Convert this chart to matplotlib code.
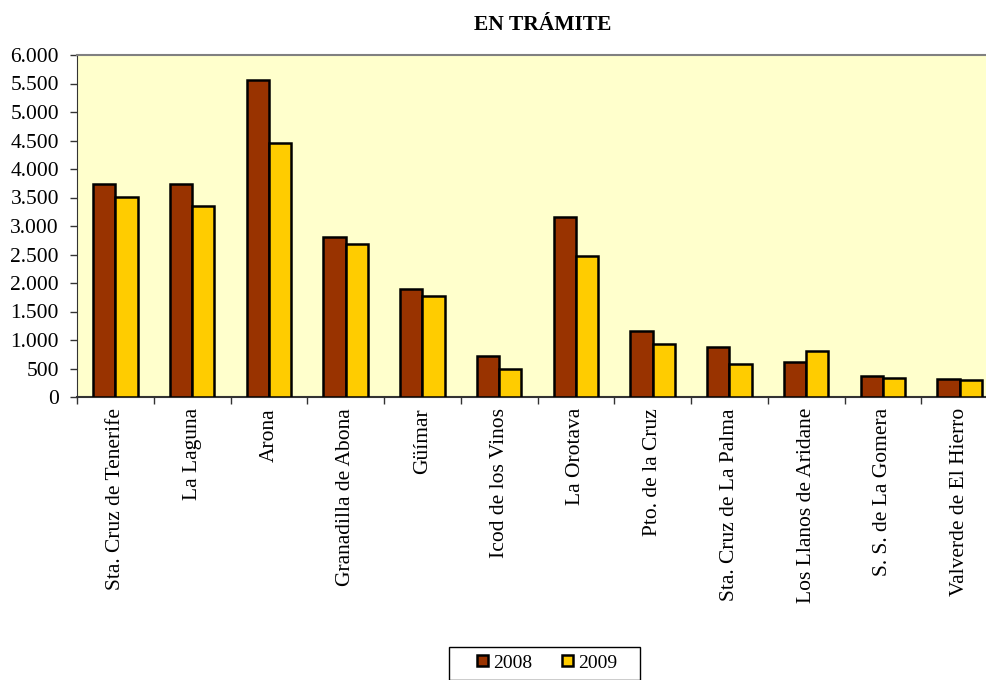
import matplotlib
matplotlib.use("Agg")
import matplotlib.pyplot as plt
import numpy as np
from matplotlib.ticker import FuncFormatter
from matplotlib.patches import Rectangle

# municipios y valores en tramite
municipios = ["Sta. Cruz de Tenerife", "La Laguna", "Arona", "Granadilla de Abona",
              "Güímar", "Icod de los Vinos", "La Orotava", "Pto. de la Cruz",
              "Sta. Cruz de La Palma", "Los Llanos de Aridane", "S. S. de La Gomera",
              "Valverde de El Hierro"]
v2008 = [3740, 3740, 5570, 2810, 1895, 720, 3150, 1160, 878, 615, 370, 316]
v2009 = [3510, 3350, 4450, 2680, 1780, 500, 2470, 937, 586, 808, 340, 305]

plt.rcParams['font.family'] = ['Liberation Serif', 'DejaVu Serif']
fs = 15.5

fig = plt.figure(figsize=(9.87, 6.8), dpi=100)
ax = fig.add_axes([77/987, 1 - 397/680, 921/987, 342/680])
ax.set_facecolor('#FFFFCC')

x = np.arange(len(municipios))
w = 0.29
ax.bar(x - w/2, v2008, w, color='#993300', edgecolor='black', linewidth=1.8, label='2008', zorder=3)
ax.bar(x + w/2, v2009, w, color='#FFCC00', edgecolor='black', linewidth=1.8, label='2009', zorder=3)

ax.set_xlim(-0.5, len(municipios) - 0.5)
ax.set_ylim(0, 6000)
ax.set_yticks(range(0, 6001, 500))
ax.yaxis.set_major_formatter(FuncFormatter(lambda v, p: f"{int(v):,}".replace(",", ".")))
ax.set_xticks(np.arange(-0.5, len(municipios), 1))
ax.set_xticklabels([])
ax.set_xticks(x, minor=True)
ax.set_xticklabels(municipios, minor=True, rotation=90, fontsize=fs)
ax.tick_params(axis='x', which='minor', length=0, pad=8)
ax.tick_params(axis='x', which='major', length=5, width=1, color='#333333', direction='out')
ax.tick_params(axis='y', length=5, width=1, color='#333333', labelsize=fs, pad=8)

for s in ['top', 'right']:
    ax.spines[s].set_color('#808080')
    ax.spines[s].set_linewidth(1.5)
ax.spines['left'].set_color('#333333')
ax.spines['bottom'].set_color('#333333')
ax.spines['bottom'].set_linewidth(1.5)

fig.text(543/987, 1 - 25/680, "EN TRÁMITE", ha='center', va='center', fontsize=fs, fontweight='bold')

# caja de la leyenda
fig.patches.append(Rectangle((449/987, 1 - 680/680), 191/987, 33/680, transform=fig.transFigure,
                             facecolor='white', edgecolor='black', linewidth=1.0, zorder=1))
leg = fig.legend(loc='center', bbox_to_anchor=(547/987, 1 - 663/680), ncol=2, fontsize=14,
                 frameon=False, handlelength=0.55, handleheight=0.55,
                 handletextpad=0.26, columnspacing=1.55, borderpad=0.2)
leg.set_zorder(2)

fig.savefig("out.png", dpi=100)
